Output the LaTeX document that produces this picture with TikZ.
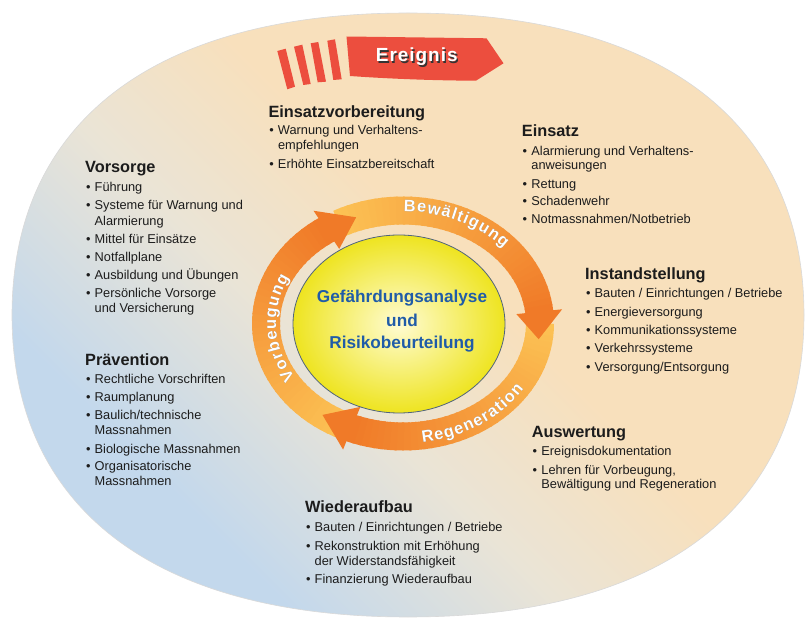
\documentclass[tikz,border=0pt]{standalone}
\usepackage{fontspec}
\setmainfont{Liberation Sans}
\newfontfamily\ringfont{Liberation Sans}
\newfontfamily\evfont[LetterSpace=5]{Liberation Sans}
\usetikzlibrary{calc,decorations.text}
\definecolor{bgpeach}{RGB}{248,224,188}
\definecolor{bgmid}{RGB}{234,228,214}
\definecolor{bgblue}{RGB}{195,216,236}
\definecolor{orlight}{RGB}{252,194,84}
\definecolor{ordark}{RGB}{240,122,40}
\definecolor{redbanner}{RGB}{236,78,62}
\definecolor{txt}{RGB}{28,28,28}
\definecolor{ctrblue}{RGB}{32,92,168}
\definecolor{ylwin}{RGB}{255,252,210}
\definecolor{ylwout}{RGB}{238,228,32}
\definecolor{ylwedge}{RGB}{80,100,125}
\pgfdeclareverticalshading{bgshade}{100bp}{color(0bp)=(bgblue); color(29bp)=(bgblue); color(43bp)=(bgmid); color(55bp)=(bgpeach); color(100bp)=(bgpeach)}
\newcommand{\hdfont}{\fontsize{16.3}{19}\selectfont\bfseries}
\newcommand{\itfont}{\fontsize{12.8}{15}\selectfont}
\newcommand{\ctrfont}{\fontsize{17.2}{20}\selectfont\bfseries}
\newcommand{\ringfmt}{\ringfont\bfseries\fontsize{16.5}{16.5}\selectfont\color{white}}
\newcommand{\ringshd}{\ringfont\bfseries\fontsize{16.5}{16.5}\selectfont\color{black!55}}
\newcommand{\kk}{\kern1.1pt}
\newcommand{\bul}{\makebox[9.5pt][l]{\hspace{0.8pt}\textbullet}}
\newcommand{\ind}{\hspace*{9.5pt}}
\newcommand{\ringbody}[2]{%
  \foreach \i in {0,...,39}{
    \pgfmathsetmacro\sa{#1+(#2-#1)*\i/40}
    \pgfmathsetmacro\ea{#1+(#2-#1)*(\i+1.3)/40}
    \pgfmathsetmacro\pc{100*\i/39}
    \draw[line width=28pt, ordark!\pc!orlight] ($(rc)+(\sa:137 and 113)$) arc[start angle=\sa, end angle=\ea, x radius=137, y radius=113];
  }}
\newcommand{\ringhead}[2]{%
  \fill[ordark] ($(rc)+(#1:160 and 136)$) -- ($(rc)+(#2:137 and 113)$) -- ($(rc)+(#1:114 and 90)$) -- cycle;}
\begin{document}
\begin{tikzpicture}[x=1pt,y=1pt,
  hd/.style={anchor=base west, inner sep=0pt, font=\hdfont, text=txt},
  it/.style={anchor=base west, inner sep=0pt, font=\itfont, text=txt},
  ctr/.style={anchor=base, inner sep=0pt, font=\ctrfont, text=ctrblue}]
\useasboundingbox (0,0) rectangle (809,619);
\fill[white] (0,0) rectangle (809,619);
% background
\shadedraw[shading=bgshade, shading angle=-45, draw=black!15, line width=0.6pt]
  (804,304) .. controls (804,497) and (661,606) .. (408,606)
  .. controls (155,606) and (12,497) .. (12,304)
  .. controls (12,111) and (155,2) .. (408,2)
  .. controls (661,2) and (804,111) .. (804,304) -- cycle;
% Ereignis banner
\fill[redbanner] (277.3,568) -- (285.7,570.3) -- (295,532.3) -- (287.3,529.7) -- cycle;
\fill[redbanner] (294,572.3) -- (302.3,574.3) -- (310.7,535) -- (303.3,534) -- cycle;
\fill[redbanner] (310.7,575.7) -- (318.3,577) -- (326,537.3) -- (317.7,536.7) -- cycle;
\fill[redbanner] (327.3,578.3) -- (335,579.7) -- (341.7,539.7) -- (333.3,539) -- cycle;
\fill[redbanner] (346.5,582.5) -- (486.5,580.7) -- (503.5,555.7) -- (476,538.3)
  .. controls (430,538.5) and (385,540.5) .. (350,543) -- cycle;
\node[anchor=base, inner sep=0pt, font=\evfont\bfseries\fontsize{19}{19}\selectfont, text=black!80] (evs) at (418.2,555.9) {Ereignis};
\node[anchor=base, inner sep=0pt, font=\evfont\bfseries\fontsize{19}{19}\selectfont, text=white] (ev) at (416.8,557.3) {Ereignis};
% ring
\coordinate (rc) at (403,295.5);
\ringbody{246}{124}
\ringbody{118}{6}
\ringbody{0}{-112}
\ringhead{124}{110}
\ringhead{6}{-8}
\ringhead{-112}{-126}
% ring labels
\path[xshift=0.8pt, yshift=-0.8pt, decorate, decoration={text along path, text align=center, text={|\ringshd|{B\kk}{e\kk}{w\kk}{ä\kk}{l\kk}{t\kk}{i\kk}{g\kk}{u\kk}{n\kk}g}}]
  ($(rc)+(104:136 and 112)$) arc[start angle=104, end angle=26, x radius=136, y radius=112];
\path[decorate, decoration={text along path, text align=center, text={|\ringfmt|{B\kk}{e\kk}{w\kk}{ä\kk}{l\kk}{t\kk}{i\kk}{g\kk}{u\kk}{n\kk}g}}]
  ($(rc)+(104:136 and 112)$) arc[start angle=104, end angle=26, x radius=136, y radius=112];
\path[xshift=0.8pt, yshift=-0.8pt, decorate, decoration={text along path, text align=center, text={|\ringshd|{V\kk}{o\kk}{r\kk}{b\kk}{e\kk}{u\kk}{g\kk}{u\kk}{n\kk}g}}]
  ($(rc)+(224:127 and 103)$) arc[start angle=224, end angle=141, x radius=127, y radius=103];
\path[decorate, decoration={text along path, text align=center, text={|\ringfmt|{V\kk}{o\kk}{r\kk}{b\kk}{e\kk}{u\kk}{g\kk}{u\kk}{n\kk}g}}]
  ($(rc)+(224:127 and 103)$) arc[start angle=224, end angle=141, x radius=127, y radius=103];
\path[xshift=0.8pt, yshift=-0.8pt, decorate, decoration={text along path, text align=center, text={|\ringshd|{R\kk}{e\kk}{g\kk}{e\kk}{n\kk}{e\kk}{r\kk}{a\kk}{t\kk}{i\kk}{o\kk}n}}]
  ($(rc)+(258:144 and 120)$) arc[start angle=258, end angle=350, x radius=144, y radius=120];
\path[decorate, decoration={text along path, text align=center, text={|\ringfmt|{R\kk}{e\kk}{g\kk}{e\kk}{n\kk}{e\kk}{r\kk}{a\kk}{t\kk}{i\kk}{o\kk}n}}]
  ($(rc)+(258:144 and 120)$) arc[start angle=258, end angle=350, x radius=144, y radius=120];
% inner ellipse
\coordinate (ic) at (399,295);
\shade[inner color=ylwin, outer color=ylwout] (ic) ellipse [x radius=106, y radius=89];
\draw[ylwedge, line width=0.8pt] (ic) ellipse [x radius=106, y radius=89];
\node[ctr] (g1) at (402,316.3) {Gefährdungsanalyse};
\node[ctr] (g2) at (402,292.3) {und};
\node[ctr] (g3) at (402,270.7) {Risikobeurteilung};
% Vorsorge
\node[hd] (vs0) at (85,446.3) {Vorsorge};
\node[it] (vs1) at (85,427.3) {\bul Führung};
\node[it] (vs2) at (85,409) {\bul Systeme für Warnung und};
\node[it] (vs3) at (85,393.7) {\ind Alarmierung};
\node[it] (vs4) at (85,375.7) {\bul Mittel für Einsätze};
\node[it] (vs5) at (85,357.3) {\bul Notfallplane};
\node[it] (vs6) at (85,339.7) {\bul Ausbildung und Übungen};
\node[it] (vs7) at (85,321.3) {\bul Persönliche Vorsorge};
\node[it] (vs8) at (85,306.3) {\ind und Versicherung};
% Praevention
\node[hd] (pv0) at (85,253) {Prävention};
\node[it] (pv1) at (85,235) {\bul Rechtliche Vorschriften};
\node[it] (pv2) at (85,217.3) {\bul Raumplanung};
\node[it] (pv3) at (85,199) {\bul Baulich/technische};
\node[it] (pv4) at (85,184) {\ind Massnahmen};
\node[it] (pv5) at (85,165.7) {\bul Biologische Massnahmen};
\node[it] (pv6) at (85,148) {\bul Organisatorische};
\node[it] (pv7) at (85,133) {\ind Massnahmen};
% Einsatzvorbereitung
\node[hd] (ev0) at (268.3,501.7) {Einsatzvorbereitung};
\node[it] (ev1) at (268.3,484) {\bul Warnung und Verhaltens-};
\node[it] (ev2) at (268.3,469.2) {\ind empfehlungen};
\node[it] (ev3) at (268.3,450.7) {\bul Erhöhte Einsatzbereitschaft};
% Einsatz
\node[hd] (es0) at (521.7,482.3) {Einsatz};
\node[it] (es1) at (521.7,463) {\bul Alarmierung und Verhaltens-};
\node[it] (es2) at (521.7,449) {\ind anweisungen};
\node[it] (es3) at (521.7,430.7) {\bul Rettung};
\node[it] (es4) at (521.7,413) {\bul Schadenwehr};
\node[it] (es5) at (521.7,395) {\bul Notmassnahmen/Notbetrieb};
% Instandstellung
\node[hd] (is0) at (585,339.6) {Instandstellung};
\node[it] (is1) at (585,321.3) {\bul Bauten / Einrichtungen / Betriebe};
\node[it] (is2) at (585,302.9) {\bul Energieversorgung};
\node[it] (is3) at (585,284.5) {\bul Kommunikationssysteme};
\node[it] (is4) at (585,266.2) {\bul Verkehrssysteme};
\node[it] (is5) at (585,247.8) {\bul Versorgung/Entsorgung};
% Auswertung
\node[hd] (aw0) at (531.7,181.7) {Auswertung};
\node[it] (aw1) at (531.7,163.3) {\bul Ereignisdokumentation};
\node[it] (aw2) at (531.7,144.7) {\bul Lehren für Vorbeugung,};
\node[it] (aw3) at (531.7,130.5) {\ind Bewältigung und Regeneration};
% Wiederaufbau
\node[hd] (wa0) at (305,106.3) {Wiederaufbau};
\node[it] (wa1) at (305,87.3) {\bul Bauten / Einrichtungen / Betriebe};
\node[it] (wa2) at (305,69) {\bul Rekonstruktion mit Erhöhung};
\node[it] (wa3) at (305,54) {\ind der Widerstandsfähigkeit};
\node[it] (wa4) at (305,35.7) {\bul Finanzierung Wiederaufbau};
\end{tikzpicture}
\end{document}
